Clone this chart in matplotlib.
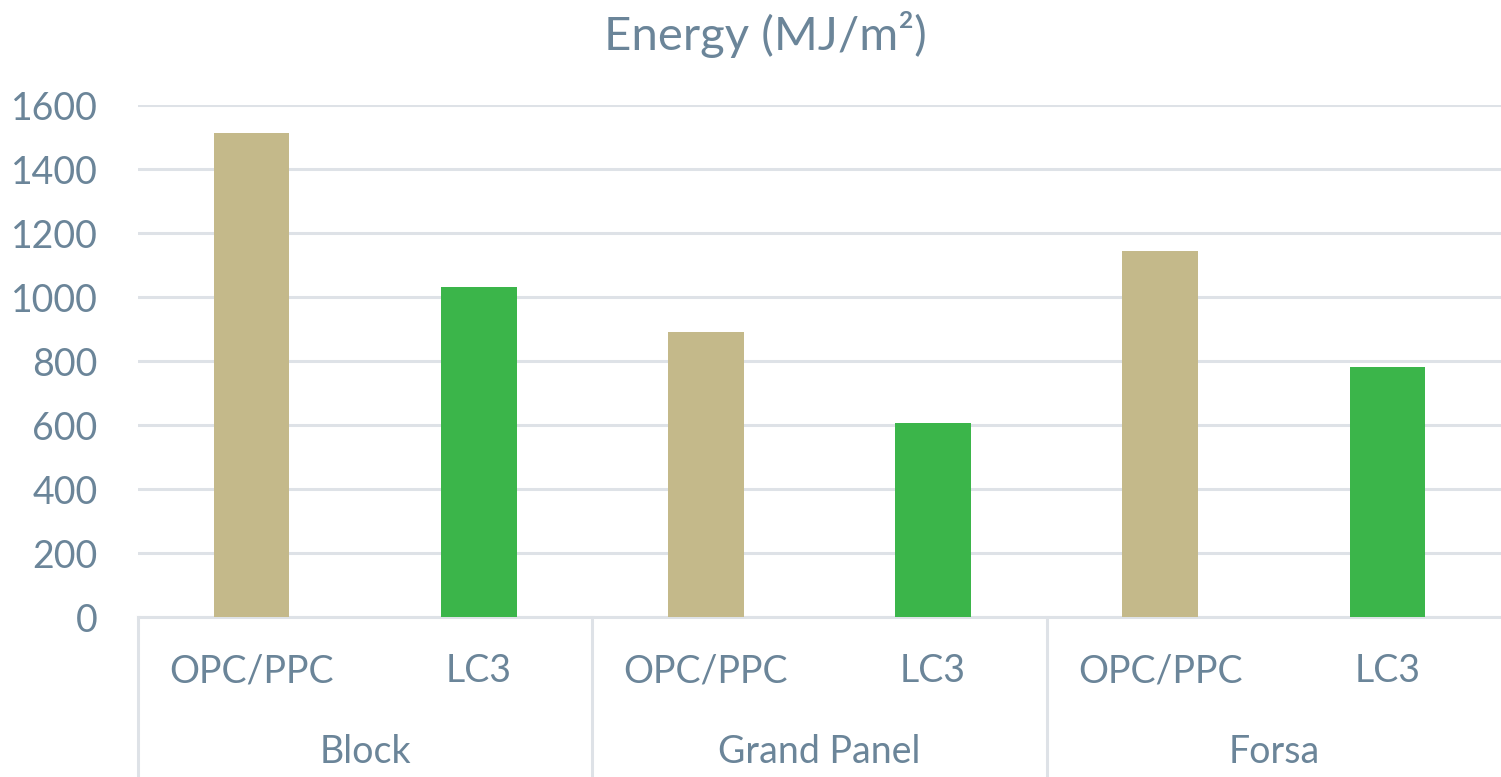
import matplotlib.pyplot as plt
import matplotlib.transforms as mtransforms

groups = ['Block', 'Grand Panel', 'Forsa']
cements = ['OPC/PPC', 'LC3']
opc_ppc = [1513, 891, 1143]
lc3 = [1032, 606, 782]

yticks = [0, 200, 400, 600, 800, 1000, 1200, 1400, 1600]

text_color = '#6B8599'
grid_color = '#DEE2E7'
bar_colors = ['#C4B98A', '#3BB54A']

plt.rcParams['font.family'] = ['Lato', 'DejaVu Sans']

W, H = 1501, 777
fig = plt.figure(figsize=(W / 100, H / 100), dpi=100)
ax = fig.add_axes([138 / W, (H - 617) / H, (W - 138) / W, (617 - 105) / H])

# interleave the two cement types within each building type
values = []
for a, b in zip(opc_ppc, lc3):
    values += [a, b]
labels = cements * len(groups)
xs = list(range(len(values)))
colors = bar_colors * len(groups)

ax.bar(xs, values, width=1 / 3, color=colors, zorder=3)

ax.set_xlim(-0.5, len(values) - 0.5)
ax.set_ylim(0, 1600)
ax.set_yticks(yticks)
ax.set_yticklabels([str(t) for t in yticks])
ax.tick_params(axis='y', length=0, pad=29, labelsize=27, labelcolor=text_color)
ax.tick_params(axis='x', bottom=False, labelbottom=False)
ax.grid(axis='y', color=grid_color, linewidth=2.2, zorder=0)

for side in ['top', 'right', 'left']:
    ax.spines[side].set_visible(False)
ax.spines['bottom'].set_color(grid_color)
ax.spines['bottom'].set_linewidth(2.2)

# two-level category axis below the plot
trans = mtransforms.blended_transform_factory(ax.transData, ax.transAxes)
px = 1 / (617 - 105)
for x, lab in zip(xs, labels):
    ax.text(x, -54 * px, lab, transform=trans, ha='center', va='center',
            fontsize=27, color=text_color)
for g, name in enumerate(groups):
    ax.text(2 * g + 0.5, -135 * px, name, transform=trans, ha='center',
            va='center', fontsize=27, color=text_color)
for g in range(len(groups)):
    sx = 2 * g - 0.5
    ax.plot([sx, sx], [0, -170 * px], transform=trans, color=grid_color,
            linewidth=2.2, clip_on=False)

fig.text(765 / W, 1 - 35 / H, 'Energy (MJ/m²)', ha='center', va='center',
         fontsize=34, color=text_color)

fig.savefig('out.png', dpi=100)
